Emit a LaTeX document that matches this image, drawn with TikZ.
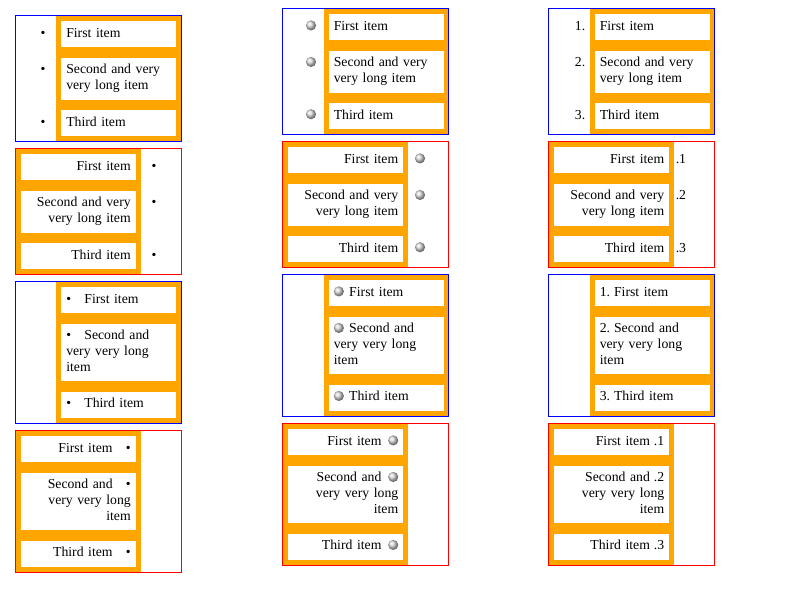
\documentclass[tikz,border=0pt]{standalone}
\usepackage{fontspec}
\setmainfont{Liberation Serif}
\usetikzlibrary{positioning,backgrounds}

\definecolor{listorange}{HTML}{FFA500}
\newcommand{\ball}{\tikz[baseline=-3.75pt]\shade[ball color=gray!30] (0,0) circle (3.8pt);}
\newcommand{\itemmark}[2]{\ifcase#1\or\textbullet\or\ball\or#2\fi}

\begin{document}
\begin{tikzpicture}[x=0.75pt,y=-0.75pt,
    every node/.style={font=\fontsize{10.3}{11.8}\selectfont},
    itembox/.style={fill=white,text width=78.75pt,inner xsep=3.75pt,
      inner ysep=3.85pt,anchor=north west},
    listmark/.style={inner xsep=0pt,inner ysep=3.85pt},
    bluebox/.style={draw=blue,line width=0.75pt},
    redbox/.style={draw=red,line width=0.75pt}]

    \useasboundingbox (0,0) rectangle (800,600);

    % markers outside, on the left
    \foreach \c/\X/\Y/\mx/\ma in {1/15/15/28/north,2/282.5/8/28.5/north,
        3/548.5/8/37/north east} {
        \coordinate (tl\c) at (\X,\Y);
        \coordinate (tr\c) at (\X+166,\Y);
        \coordinate (m\c) at (\X+\mx,\Y);
        \node[itembox,align=left] (r1-\c-1) at (\X+46,\Y+6) {\strut First item\strut};
        \node[itembox,align=left,below=7.5pt of r1-\c-1] (r1-\c-2)
            {\strut Second and very\\very long item\strut};
        \node[itembox,align=left,below=7.5pt of r1-\c-2] (r1-\c-3)
            {\strut Third item\strut};
        \foreach \i in {1,2,3}
            \node[listmark,anchor=\ma] (mk1-\c-\i) at (m\c |- r1-\c-\i.north)
                {\strut\itemmark{\c}{\i.}};
        \coordinate (bot\c) at ([yshift=-3.75pt]r1-\c-3.south);
        \begin{scope}[on background layer]
            \fill[listorange] (\X+41,\Y) rectangle (tr\c |- bot\c);
        \end{scope}
        \draw[bluebox] (tl\c) rectangle (tr\c |- bot\c);
    }

    % markers outside, on the right
    \foreach \c/\X/\Y/\mx/\ma in {1/15/148/139/north,2/282.5/141/137.5/north,
        3/548.5/141/127/north west} {
        \coordinate (tl\c) at (\X,\Y);
        \coordinate (tr\c) at (\X+166,\Y);
        \coordinate (or\c) at (\X+125.5,\Y);
        \coordinate (m\c) at (\X+\mx,\Y);
        \node[itembox,align=right] (r2-\c-1) at (\X+5.5,\Y+6) {\strut First item\strut};
        \node[itembox,align=right,below=7.5pt of r2-\c-1] (r2-\c-2)
            {\strut Second and very\\very long item\strut};
        \node[itembox,align=right,below=7.5pt of r2-\c-2] (r2-\c-3)
            {\strut Third item\strut};
        \foreach \i in {1,2,3}
            \node[listmark,anchor=\ma] (mk2-\c-\i) at (m\c |- r2-\c-\i.north)
                {\strut\itemmark{\c}{.\i}};
        \coordinate (bot\c) at ([yshift=-3.75pt]r2-\c-3.south);
        \begin{scope}[on background layer]
            \fill[listorange] (tl\c) rectangle (or\c |- bot\c);
        \end{scope}
        \draw[redbox] (tl\c) rectangle (tr\c |- bot\c);
    }

    % markers inside, before the text
    \foreach \c/\X/\Y/\gp in {1/15/281/10pt,2/282.5/274/4pt,3/548.5/274/3pt} {
        \coordinate (tl\c) at (\X,\Y);
        \coordinate (tr\c) at (\X+166,\Y);
        \node[itembox,align=left] (r3-\c-1) at (\X+46,\Y+6)
            {\strut\itemmark{\c}{1.}\hspace{\gp}First item\strut};
        \node[itembox,align=left,below=7.5pt of r3-\c-1] (r3-\c-2)
            {\strut\itemmark{\c}{2.}\hspace{\gp}Second and\\very very long\\item\strut};
        \node[itembox,align=left,below=7.5pt of r3-\c-2] (r3-\c-3)
            {\strut\itemmark{\c}{3.}\hspace{\gp}Third item\strut};
        \coordinate (bot\c) at ([yshift=-3.75pt]r3-\c-3.south);
        \begin{scope}[on background layer]
            \fill[listorange] (\X+41,\Y) rectangle (tr\c |- bot\c);
        \end{scope}
        \draw[bluebox] (tl\c) rectangle (tr\c |- bot\c);
    }

    % markers inside, after the text
    \foreach \c/\X/\Y/\gp in {1/15/430/10pt,2/282.5/423/5pt,3/548.5/423/3pt} {
        \coordinate (tl\c) at (\X,\Y);
        \coordinate (tr\c) at (\X+166,\Y);
        \coordinate (or\c) at (\X+125.5,\Y);
        \node[itembox,align=right] (r4-\c-1) at (\X+5.5,\Y+6)
            {\strut First item\hspace{\gp}\itemmark{\c}{.1}\strut};
        \node[itembox,align=right,below=7.5pt of r4-\c-1] (r4-\c-2)
            {\strut Second and\hspace{\gp}\itemmark{\c}{.2}\\very very long\\item\strut};
        \node[itembox,align=right,below=7.5pt of r4-\c-2] (r4-\c-3)
            {\strut Third item\hspace{\gp}\itemmark{\c}{.3}\strut};
        \coordinate (bot\c) at ([yshift=-3.75pt]r4-\c-3.south);
        \begin{scope}[on background layer]
            \fill[listorange] (tl\c) rectangle (or\c |- bot\c);
        \end{scope}
        \draw[redbox] (tl\c) rectangle (tr\c |- bot\c);
    }
\end{tikzpicture}
\end{document}
